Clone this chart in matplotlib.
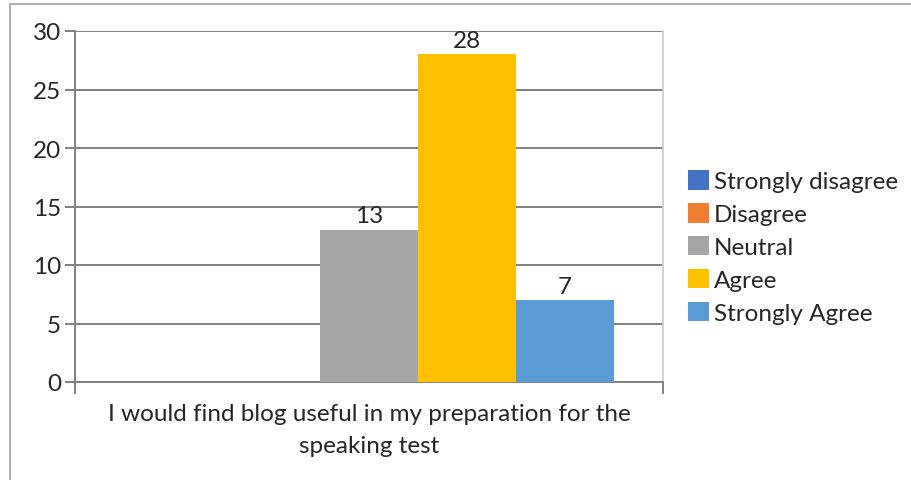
import matplotlib
matplotlib.use("Agg")
import matplotlib.pyplot as plt
from matplotlib.patches import Patch, Rectangle

# ── Data ──────────────────────────────────────────────────────────────
category = "I would find blog useful in my preparation for the\nspeaking test"
series = ["Strongly disagree", "Disagree", "Neutral", "Agree", "Strongly Agree"]
values = [0, 0, 13, 28, 7]
colors = ["#4472C4", "#ED7D31", "#A5A5A5", "#FFC000", "#5B9BD5"]
yticks = [0, 5, 10, 15, 20, 25, 30]

W, H = 912, 481
FONT = "Lato"
FS = 17.5
TXT = "#262626"
GRID = "#808080"

fig = plt.figure(figsize=(W / 100, H / 100), dpi=100)
ax = fig.add_axes([75 / W, 1 - 383 / H, (663 - 75) / W, (383 - 32) / H])

# chart frame (clipped on right/bottom)
fig.patches.append(Rectangle((10 / W, -0.1), 1.2, 1 - 5 / H + 0.1,
                             transform=fig.transFigure, fill=False,
                             edgecolor="#A6A6A6", lw=1.3))

# bars: one group, five series side by side
bw = 1.0
for i, (v, c) in enumerate(zip(values, colors)):
    x = 1 + i
    ax.bar(x, v, width=bw, color=c, zorder=3)
    if v > 0:
        ax.text(x, v + 0.3, str(v), ha="center", va="bottom",
                fontsize=FS, family=FONT, color=TXT, zorder=4)

ax.set_xlim(0, 6)
ax.set_ylim(0, 30)
ax.set_yticks(yticks)
ax.set_yticklabels([str(t) for t in yticks], fontsize=FS, family=FONT, color=TXT)
ax.set_xticks([])

for t in yticks[1:]:
    ax.axhline(t, color=GRID, lw=1.4, zorder=1)

ax.spines["top"].set_visible(False)
ax.spines["right"].set_color("#D0D0D0")
ax.spines["right"].set_linewidth(1.3)
ax.spines["left"].set_color(GRID)
ax.spines["left"].set_linewidth(1.4)
ax.spines["bottom"].set_color(GRID)
ax.spines["bottom"].set_linewidth(1.4)
ax.spines["left"].set_bounds(-0.9, 30)
ax.tick_params(axis="y", length=7, width=1.4, color=GRID, pad=3)

# category tick marks at group edges
for xe in (0, 6):
    ax.plot([xe, xe], [0, -0.9], color=GRID, lw=1.4, clip_on=False, zorder=2)

ax.text(3, -1.8, category, ha="center", va="top", fontsize=FS, family=FONT,
        color=TXT, linespacing=1.62)

handles = [Patch(facecolor=c, edgecolor="none") for c in colors]
leg = fig.legend(handles, series, loc="center left",
                 bbox_to_anchor=(671 / W, 1 - 248 / H), frameon=False,
                 prop={"family": FONT, "size": FS}, handlelength=0.85,
                 handleheight=0.85, handletextpad=0.2, labelspacing=0.44,
                 borderpad=0.2)
for t in leg.get_texts():
    t.set_color(TXT)

fig.savefig("out.png", dpi=100)
